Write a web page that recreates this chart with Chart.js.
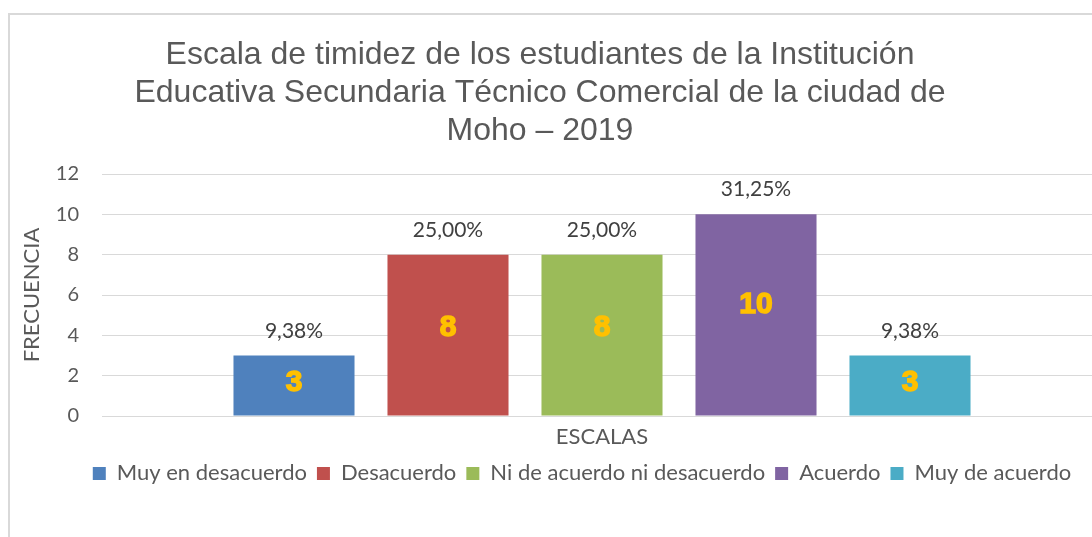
<!DOCTYPE html>
<html lang="es">
<head>
<meta charset="utf-8">
<script src="https://cdn.jsdelivr.net/npm/chart.js@4.4.0/dist/chart.umd.min.js"></script>
<style>
  html, body { margin: 0; padding: 0; background: #fff; overflow: hidden; width: 1092px; height: 537px; }
  #frame { position: absolute; left: 8px; top: 13px; width: 1200px; height: 600px; border: 2px solid #d9d9d9; }
  #wrap { position: absolute; left: 0; top: 0; width: 1110px; height: 537px; }
</style>
</head>
<body>
<div id="frame"></div>
<div id="wrap"><canvas id="chart"></canvas></div>
<script>
// chart texts
const titleLines = [
    'Escala de timidez de los estudiantes de la Institución',
    'Educativa Secundaria Técnico Comercial de la ciudad de',
    'Moho – 2019'
];
const categories = [''];
const seriesNames = ['Muy en desacuerdo', 'Desacuerdo', 'Ni de acuerdo ni desacuerdo', 'Acuerdo', 'Muy de acuerdo'];
const seriesValues = [3, 8, 8, 10, 3];
const percentLabels = ['9,38%', '25,00%', '25,00%', '31,25%', '9,38%'];
const seriesColors = ['#4F81BD', '#C0504D', '#9BBB59', '#8064A2', '#4BACC6'];
const yMax = 12;
const yStep = 2;

const grey = '#595959';

// one dataset per scale level, all in the single category
const datasets = seriesNames.map((name, i) => ({
    label: name,
    data: [seriesValues[i]],
    backgroundColor: seriesColors[i],
    borderWidth: 0,
    categoryPercentage: 0.77,
    barPercentage: 0.786
}));

// title drawn by hand so it can sit where Excel put it
const titlePlugin = {
    id: 'titleText',
    afterDraw(chart) {
        const ctx = chart.ctx;
        ctx.save();
        ctx.font = '32px "Liberation Sans", Arial, sans-serif';
        ctx.fillStyle = grey;
        ctx.textAlign = 'center';
        ctx.textBaseline = 'alphabetic';
        titleLines.forEach((line, i) => {
            ctx.fillText(line, 540, 64 + i * 38);
        });
        ctx.restore();
    }
};

// percentages above bars, counts inside bars
const labelPlugin = {
    id: 'barLabels',
    afterDatasetsDraw(chart) {
        const ctx = chart.ctx;
        const yScale = chart.scales.y;
        ctx.save();
        ctx.textAlign = 'center';
        chart.data.datasets.forEach((ds, i) => {
            const bar = chart.getDatasetMeta(i).data[0];
            ctx.font = '21px Lato, sans-serif';
            ctx.fillStyle = '#404040';
            ctx.textBaseline = 'alphabetic';
            ctx.fillText(percentLabels[i], bar.x, bar.y - 18);

            ctx.font = 'bold 30px "Liberation Sans", Arial, sans-serif';
            ctx.fillStyle = '#FFC000';
            ctx.strokeStyle = '#FFC000';
            ctx.lineWidth = 1.5;
            ctx.textBaseline = 'middle';
            const v = ds.data[0];
            const y = yScale.getPixelForValue(v * 0.55);
            ctx.strokeText(String(v), bar.x, y);
            ctx.fillText(String(v), bar.x, y);
        });
        ctx.restore();
    }
};

// move the legend so it is centred like the original
const legendShift = {
    id: 'legendShift',
    afterLayout(chart) {
        chart.legend.left += 31;
        chart.legend.right += 31;
    }
};

new Chart(document.getElementById('chart'), {
    type: 'bar',
    data: { labels: categories, datasets: datasets },
    plugins: [titlePlugin, labelPlugin, legendShift],
    options: {
        responsive: true,
        maintainAspectRatio: false,
        animation: false,
        layout: { padding: { top: 174, right: 8, bottom: 42.6, left: 0 } },
        plugins: {
            title: { display: false },
            tooltip: { enabled: false },
            legend: {
                position: 'bottom',
                labels: {
                    boxWidth: 13,
                    boxHeight: 13,
                    padding: 10,
                    color: grey,
                    font: { family: 'Lato, sans-serif', size: 22 }
                }
            }
        },
        scales: {
            x: {
                afterFit(scale) { scale.height = 36.4; },
                grid: { display: false },
                border: { display: true, color: '#d9d9d9', width: 1 },
                ticks: { display: false },
                title: {
                    display: true,
                    text: 'ESCALAS',
                    color: grey,
                    font: { family: 'Lato, sans-serif', size: 22 },
                    padding: { top: 8, bottom: 2 }
                }
            },
            y: {
                min: 0,
                max: yMax,
                afterFit(scale) { scale.width = 102; },
                grid: { color: '#d9d9d9', lineWidth: 1, drawTicks: false },
                border: { display: false },
                ticks: {
                    stepSize: yStep,
                    padding: 23,
                    color: grey,
                    font: { family: 'Lato, sans-serif', size: 20 }
                },
                title: {
                    display: true,
                    text: 'FRECUENCIA',
                    color: grey,
                    font: { family: 'Lato, sans-serif', size: 22 },
                    padding: { top: 19, bottom: 10 }
                }
            }
        }
    }
});
</script>
</body>
</html>
